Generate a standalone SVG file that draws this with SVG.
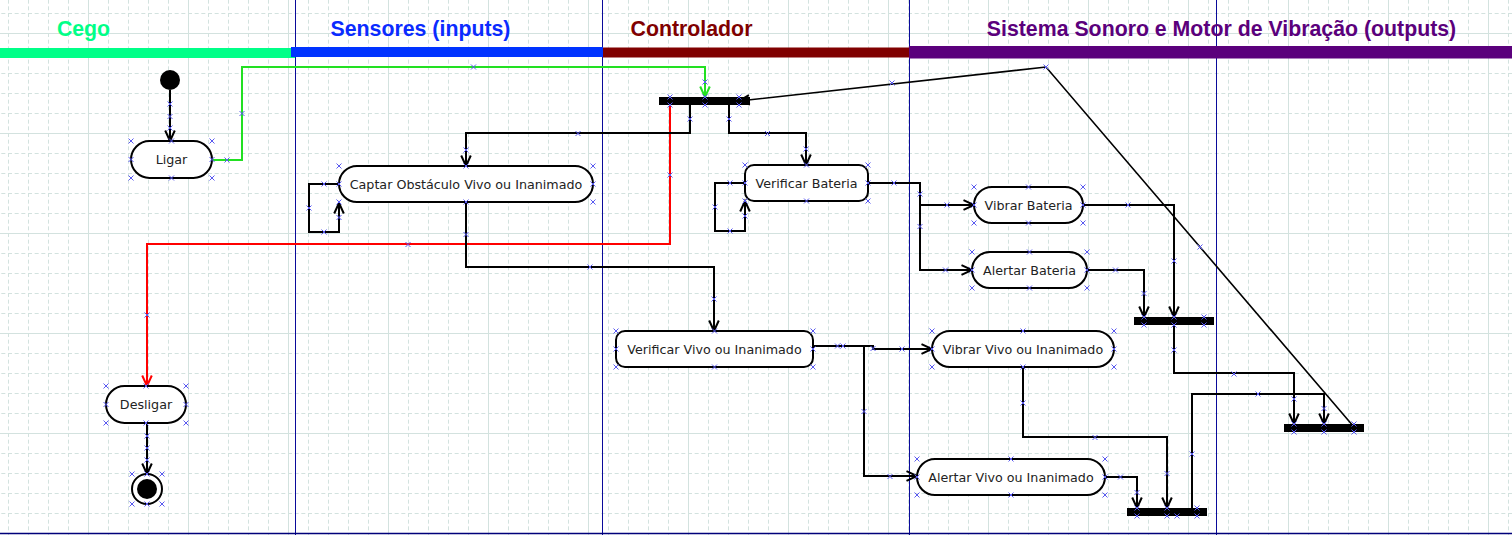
<svg xmlns="http://www.w3.org/2000/svg" xmlns:xlink="http://www.w3.org/1999/xlink" width="1512" height="535" viewBox="0 0 1512 535">
<style>
.lane{stroke:#0a0a9a;stroke-width:1;fill:none}
.hdr{font-family:"Liberation Sans",Arial,sans-serif;font-weight:bold;font-size:21.3px;text-anchor:middle}
.node rect{fill:#fff;stroke:#000;stroke-width:2}
.node text{font-family:"DejaVu Sans",Verdana,sans-serif;font-size:12.7px;fill:#222;text-anchor:middle}
.bar{fill:#000}
.c{fill:none;stroke:#000;stroke-width:2}
.ca{marker-end:url(#ab)}
.mk use{stroke:#5a5af0;stroke-width:1;fill:none}
</style>
<defs>
<pattern id="gd" width="20" height="20" patternUnits="userSpaceOnUse" x="8" y="13">
<path d="M0.5,0V20M0,0.5H20" fill="none" stroke="#d3e2df" stroke-width="1" stroke-dasharray="4 2.667"/>
</pattern>
<pattern id="gs" width="100" height="100" patternUnits="userSpaceOnUse" x="88" y="33">
<path d="M0.5,0V100M0,0.5H100" fill="none" stroke="#d3e2df" stroke-width="1"/>
</pattern>
<marker id="ab" viewBox="-12 -6 13 12" refX="0" refY="0" markerWidth="13" markerHeight="12" markerUnits="userSpaceOnUse" orient="auto" overflow="visible">
<path d="M-10.5,-4.8L0,0L-10.5,4.8" fill="none" stroke="#000" stroke-width="2"/>
</marker>
<marker id="ag" viewBox="-12 -6 13 12" refX="0" refY="0" markerWidth="13" markerHeight="12" markerUnits="userSpaceOnUse" orient="auto" overflow="visible">
<path d="M-10.5,-4.8L0,0L-10.5,4.8" fill="none" stroke="#22e022" stroke-width="2"/>
</marker>
<marker id="ar" viewBox="-12 -6 13 12" refX="0" refY="0" markerWidth="13" markerHeight="12" markerUnits="userSpaceOnUse" orient="auto" overflow="visible">
<path d="M-10.5,-4.8L0,0L-10.5,4.8" fill="none" stroke="#ff0000" stroke-width="2"/>
</marker>
<path id="x" d="M-2.5,-2.5L2.5,2.5M-2.5,2.5L2.5,-2.5"/>
</defs>

<g id="background">
<rect width="1512" height="535" fill="#fff"/>
<rect width="1512" height="535" fill="url(#gd)"/>
<rect width="1512" height="535" fill="url(#gs)"/>
</g>

<g id="lanes">
<path class="lane" d="M295.5,0V535M602.5,0V535M909.5,0V535M1216.5,0V535"/>
<path d="M0,533.5H1512" stroke="#00007a" stroke-width="1.6"/>
<rect x="0" y="48" width="295" height="10" fill="#00ff88"/>
<rect x="291" y="47" width="312" height="10" fill="#0033ff"/>
<rect x="603" y="47.5" width="307" height="10" fill="#800000"/>
<rect x="909" y="46" width="603" height="12.5" fill="#5b007c"/>
<text class="hdr" x="83.5" y="36" fill="#00ff88">Cego</text>
<text class="hdr" x="420.5" y="36" fill="#0a2bff">Sensores (inputs)</text>
<text class="hdr" x="691.5" y="36" fill="#800000">Controlador</text>
<text class="hdr" x="1221.5" y="36" fill="#5b007c">Sistema Sonoro e Motor de Vibração (outputs)</text>
</g>

<g id="connectors">
<path class="c ca" d="M170,90V141"/>
<path class="c" d="M212,160H242V67H705V97" stroke="#22e022" marker-end="url(#ag)" style="stroke:#22e022"/>
<path class="c" d="M670,105V244H147V386" marker-end="url(#ar)" style="stroke:#ff0000"/>
<path class="c ca" d="M690,105V133H466V166"/>
<path class="c ca" d="M729,105V133H806V165"/>
<path class="c ca" d="M339,184H309V232H339V203"/>
<path class="c ca" d="M745,183H715V231H745V201"/>
<path class="c ca" d="M466,202V267H714V331"/>
<path class="c ca" d="M868,183H920V205H974"/>
<path class="c ca" d="M868,183H920V270H972"/>
<path class="c ca" d="M1083,205H1174V317"/>
<path class="c ca" d="M1087,270H1144V317"/>
<path class="c ca" d="M1174,325V373H1294V424"/>
<path class="c ca" d="M1192,508V394H1324V424"/>
<path class="c ca" d="M1354,427L1046,67L739,101" style="stroke-width:1.6"/>
<path class="c ca" d="M813,346H873V349H932"/>
<path class="c ca" d="M813,346H864V476H917"/>
<path class="c ca" d="M1023,367V437H1167V508"/>
<path class="c ca" d="M1105,477H1137V508"/>
<path class="c ca" d="M147,423V474"/>
</g>

<g id="initial"><circle cx="170" cy="80" r="10" fill="#000"/></g>
<g id="fork"><rect class="bar" x="659" y="97" width="91" height="8"/></g>
<g id="join-bateria"><rect class="bar" x="1134" y="317" width="80" height="8"/></g>
<g id="join-vivo"><rect class="bar" x="1127" y="508" width="80" height="8"/></g>
<g id="join-final"><rect class="bar" x="1284" y="424" width="80" height="8"/></g>

<g id="ligar" class="node"><rect x="131" y="141" width="81" height="37" rx="18.5"/><text x="171.5" y="164">Ligar</text></g>
<g id="captar" class="node"><rect x="339" y="166" width="254" height="36" rx="18"/><text x="466" y="188.5">Captar Obstáculo Vivo ou Inanimado</text></g>
<g id="verificar-bateria" class="node"><rect x="745" y="165" width="123" height="36" rx="9"/><text x="806.5" y="187.5">Verificar Bateria</text></g>
<g id="vibrar-bateria" class="node"><rect x="974" y="187" width="109" height="36" rx="18"/><text x="1028.5" y="209.5">Vibrar Bateria</text></g>
<g id="alertar-bateria" class="node"><rect x="972" y="252" width="115" height="36" rx="18"/><text x="1029.5" y="274.5">Alertar Bateria</text></g>
<g id="verificar-vivo" class="node"><rect x="616" y="331" width="197" height="36" rx="9"/><text x="714.5" y="353.5">Verificar Vivo ou Inanimado</text></g>
<g id="vibrar-vivo" class="node"><rect x="932" y="331" width="182" height="36" rx="18"/><text x="1023" y="353.5">Vibrar Vivo ou Inanimado</text></g>
<g id="alertar-vivo" class="node"><rect x="917" y="459" width="188" height="36" rx="18"/><text x="1011" y="481.5">Alertar Vivo ou Inanimado</text></g>
<g id="desligar" class="node"><rect x="106" y="386" width="80" height="37" rx="18.5"/><text x="146" y="409">Desligar</text></g>
<g id="final"><circle cx="147" cy="489" r="15" fill="#fff" stroke="#000" stroke-width="2"/><circle cx="147" cy="489" r="10" fill="#000"/></g>

<g id="handles" class="mk">
<use href="#x" x="131" y="141"/><use href="#x" x="171.5" y="141"/><use href="#x" x="212" y="141"/><use href="#x" x="131" y="159.5"/><use href="#x" x="212" y="159.5"/><use href="#x" x="131" y="178"/><use href="#x" x="171.5" y="178"/><use href="#x" x="212" y="178"/>
<use href="#x" x="339" y="166"/><use href="#x" x="466" y="166"/><use href="#x" x="593" y="166"/><use href="#x" x="339" y="184"/><use href="#x" x="593" y="184"/><use href="#x" x="339" y="202"/><use href="#x" x="466" y="202"/><use href="#x" x="593" y="202"/>
<use href="#x" x="745" y="165"/><use href="#x" x="806.5" y="165"/><use href="#x" x="868" y="165"/><use href="#x" x="745" y="183"/><use href="#x" x="868" y="183"/><use href="#x" x="745" y="201"/><use href="#x" x="806.5" y="201"/><use href="#x" x="868" y="201"/>
<use href="#x" x="974" y="187"/><use href="#x" x="1028.5" y="187"/><use href="#x" x="1083" y="187"/><use href="#x" x="974" y="205"/><use href="#x" x="1083" y="205"/><use href="#x" x="974" y="223"/><use href="#x" x="1028.5" y="223"/><use href="#x" x="1083" y="223"/>
<use href="#x" x="972" y="252"/><use href="#x" x="1029.5" y="252"/><use href="#x" x="1087" y="252"/><use href="#x" x="972" y="270"/><use href="#x" x="1087" y="270"/><use href="#x" x="972" y="288"/><use href="#x" x="1029.5" y="288"/><use href="#x" x="1087" y="288"/>
<use href="#x" x="616" y="331"/><use href="#x" x="714.5" y="331"/><use href="#x" x="813" y="331"/><use href="#x" x="616" y="349"/><use href="#x" x="813" y="349"/><use href="#x" x="616" y="367"/><use href="#x" x="714.5" y="367"/><use href="#x" x="813" y="367"/>
<use href="#x" x="932" y="331"/><use href="#x" x="1023" y="331"/><use href="#x" x="1114" y="331"/><use href="#x" x="932" y="349"/><use href="#x" x="1114" y="349"/><use href="#x" x="932" y="367"/><use href="#x" x="1023" y="367"/><use href="#x" x="1114" y="367"/>
<use href="#x" x="917" y="459"/><use href="#x" x="1011" y="459"/><use href="#x" x="1105" y="459"/><use href="#x" x="917" y="477"/><use href="#x" x="1105" y="477"/><use href="#x" x="917" y="495"/><use href="#x" x="1011" y="495"/><use href="#x" x="1105" y="495"/>
<use href="#x" x="106" y="386"/><use href="#x" x="146" y="386"/><use href="#x" x="186" y="386"/><use href="#x" x="106" y="404.5"/><use href="#x" x="186" y="404.5"/><use href="#x" x="106" y="423"/><use href="#x" x="146" y="423"/><use href="#x" x="186" y="423"/>
<use href="#x" x="132" y="474"/><use href="#x" x="147" y="474"/><use href="#x" x="162" y="474"/><use href="#x" x="132" y="504"/><use href="#x" x="147" y="504"/><use href="#x" x="162" y="504"/>
<use href="#x" x="670" y="97"/><use href="#x" x="705" y="97"/><use href="#x" x="739" y="97"/><use href="#x" x="670" y="105"/><use href="#x" x="705" y="105"/><use href="#x" x="739" y="105"/>
<use href="#x" x="1144" y="317"/><use href="#x" x="1174" y="317"/><use href="#x" x="1204" y="317"/><use href="#x" x="1144" y="325"/><use href="#x" x="1174" y="325"/><use href="#x" x="1204" y="325"/>
<use href="#x" x="1137" y="508"/><use href="#x" x="1167" y="508"/><use href="#x" x="1197" y="508"/><use href="#x" x="1137" y="516"/><use href="#x" x="1167" y="516"/><use href="#x" x="1177" y="516"/><use href="#x" x="1197" y="516"/>
<use href="#x" x="1294" y="424"/><use href="#x" x="1324" y="424"/><use href="#x" x="1354" y="424"/><use href="#x" x="1294" y="432"/><use href="#x" x="1324" y="432"/><use href="#x" x="1354" y="432"/>
<use href="#x" x="170" y="104"/><use href="#x" x="170" y="116.5"/><use href="#x" x="170" y="128"/>
<use href="#x" x="227" y="160"/><use href="#x" x="242" y="113.5"/><use href="#x" x="473.5" y="67"/><use href="#x" x="705" y="82"/>
<use href="#x" x="670" y="175"/><use href="#x" x="408" y="244.5"/><use href="#x" x="147" y="315"/>
<use href="#x" x="690" y="119"/><use href="#x" x="578" y="133.5"/><use href="#x" x="466" y="150"/>
<use href="#x" x="729" y="119"/><use href="#x" x="767.5" y="133.5"/><use href="#x" x="806" y="149"/>
<use href="#x" x="324" y="184"/><use href="#x" x="309" y="208"/><use href="#x" x="324" y="232"/><use href="#x" x="339" y="217.5"/>
<use href="#x" x="730" y="183"/><use href="#x" x="715" y="207"/><use href="#x" x="730" y="231"/><use href="#x" x="745" y="216"/>
<use href="#x" x="466" y="234.5"/><use href="#x" x="590" y="267"/><use href="#x" x="714" y="299"/>
<use href="#x" x="894" y="183"/><use href="#x" x="920" y="194"/><use href="#x" x="947" y="205"/><use href="#x" x="920" y="226.5"/><use href="#x" x="945.5" y="270"/>
<use href="#x" x="1128" y="205"/><use href="#x" x="1174" y="261"/><use href="#x" x="1115.5" y="270"/><use href="#x" x="1144" y="293.5"/>
<use href="#x" x="1174" y="350"/><use href="#x" x="1234" y="374"/><use href="#x" x="1294" y="399"/>
<use href="#x" x="1192" y="454"/><use href="#x" x="1258" y="394"/><use href="#x" x="1324" y="408.5"/>
<use href="#x" x="1200" y="247"/><use href="#x" x="892" y="83"/><use href="#x" x="1046" y="67"/>
<use href="#x" x="837.5" y="346"/><use href="#x" x="843" y="346"/><use href="#x" x="873" y="348.5"/><use href="#x" x="902" y="349"/>
<use href="#x" x="864" y="411.5"/><use href="#x" x="890" y="476.5"/>
<use href="#x" x="1023" y="403"/><use href="#x" x="1095" y="437.5"/><use href="#x" x="1167" y="473.5"/>
<use href="#x" x="1120.5" y="477"/><use href="#x" x="1137" y="492.5"/>
<use href="#x" x="147" y="436"/><use href="#x" x="147" y="448"/><use href="#x" x="147" y="460"/>
</g>
</svg>
